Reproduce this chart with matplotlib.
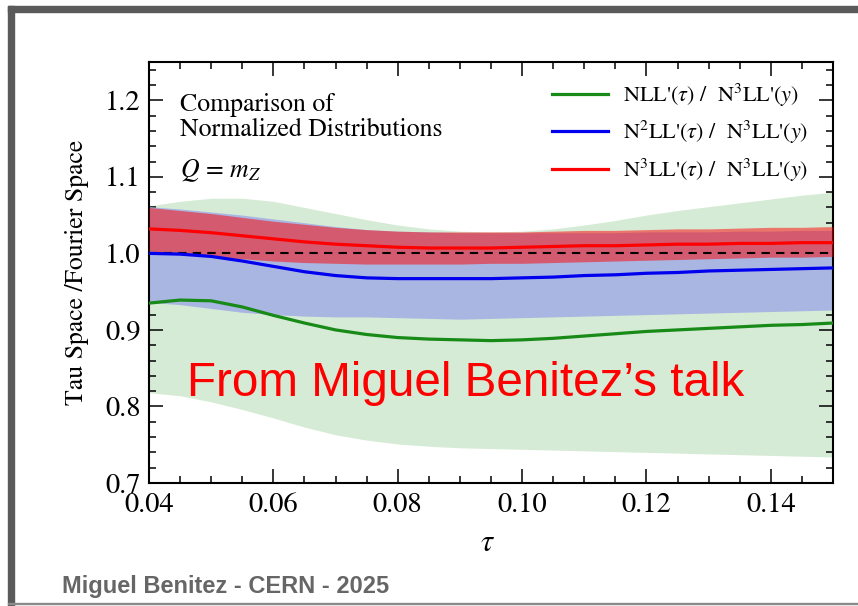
import numpy as np
import matplotlib
matplotlib.use("Agg")
import matplotlib.pyplot as plt
from matplotlib.patches import Rectangle

plt.rcParams["font.family"] = ["STIXGeneral", "DejaVu Serif"]
plt.rcParams["mathtext.fontset"] = "stix"

# ratio curves and scale bands, read every 0.005 in tau
tau = [0.040, 0.045, 0.050, 0.055, 0.060, 0.065, 0.070, 0.075, 0.080, 0.085, 0.090, 0.095,
       0.100, 0.105, 0.110, 0.115, 0.120, 0.125, 0.130, 0.135, 0.140, 0.145, 0.150]

nll = [0.935, 0.939, 0.938, 0.930, 0.919, 0.909, 0.900, 0.894, 0.890, 0.888, 0.887, 0.886,
       0.887, 0.889, 0.892, 0.895, 0.898, 0.900, 0.902, 0.904, 0.906, 0.907, 0.909]
nll_hi = [1.062, 1.068, 1.072, 1.072, 1.068, 1.060, 1.052, 1.044, 1.037, 1.032, 1.029, 1.028,
          1.029, 1.032, 1.037, 1.043, 1.050, 1.056, 1.061, 1.066, 1.071, 1.076, 1.080]
nll_lo = [0.818, 0.814, 0.806, 0.796, 0.785, 0.773, 0.763, 0.756, 0.751, 0.748, 0.746, 0.745,
          0.744, 0.743, 0.742, 0.741, 0.740, 0.739, 0.738, 0.737, 0.736, 0.735, 0.734]

n2ll = [1.000, 0.999, 0.996, 0.990, 0.983, 0.976, 0.971, 0.968, 0.967, 0.967, 0.967, 0.967,
        0.968, 0.969, 0.971, 0.972, 0.974, 0.975, 0.977, 0.978, 0.979, 0.980, 0.981]
n2ll_hi = [1.061, 1.058, 1.054, 1.050, 1.045, 1.040, 1.035, 1.031, 1.029, 1.028, 1.027, 1.027,
           1.027, 1.027, 1.027, 1.027, 1.028, 1.028, 1.028, 1.029, 1.029, 1.030, 1.030]
n2ll_lo = [0.936, 0.933, 0.928, 0.923, 0.920, 0.918, 0.917, 0.917, 0.916, 0.915, 0.914, 0.915,
           0.916, 0.917, 0.918, 0.919, 0.920, 0.921, 0.922, 0.923, 0.924, 0.925, 0.926]

n3ll = [1.032, 1.030, 1.027, 1.023, 1.019, 1.015, 1.012, 1.010, 1.008, 1.007, 1.007, 1.007,
        1.008, 1.009, 1.010, 1.010, 1.011, 1.012, 1.012, 1.013, 1.013, 1.014, 1.014]
n3ll_hi = [1.060, 1.056, 1.052, 1.047, 1.042, 1.038, 1.034, 1.031, 1.029, 1.028, 1.028, 1.028,
           1.028, 1.029, 1.030, 1.030, 1.031, 1.032, 1.032, 1.033, 1.034, 1.034, 1.035]
n3ll_lo = [1.003, 1.000, 0.996, 0.993, 0.990, 0.988, 0.987, 0.986, 0.986, 0.986, 0.986, 0.987,
           0.987, 0.988, 0.989, 0.990, 0.991, 0.992, 0.993, 0.994, 0.995, 0.995, 0.996]

labels = [r"NLL'($\tau$) /  N$^3$LL'($y$)",
          r"N$^2$LL'($\tau$) /  N$^3$LL'($y$)",
          r"N$^3$LL'($\tau$) /  N$^3$LL'($y$)"]

fig = plt.figure(figsize=(8.58, 6.06), dpi=100)
W, H = 858, 606

# slide frame
frame = "#5a5a5a"
fig.patches.append(Rectangle((8 / W, 1 - 12 / H), 1, 6 / H, transform=fig.transFigure,
                             color=frame, zorder=0))
fig.patches.append(Rectangle((8 / W, 0), 6 / W, 1 - 6 / H, transform=fig.transFigure,
                             color=frame, zorder=0))
fig.patches.append(Rectangle((8 / W, 2 / H), 1, 1.5 / H, transform=fig.transFigure,
                             color="#8a8a8a", zorder=0))

ax = fig.add_axes([149 / W, 1 - 483 / H, 684 / W, 421 / H])
ax.set_facecolor("none")

ax.fill_between(tau, nll_lo, nll_hi, color="#d6ebd6", lw=0, zorder=1)
ax.fill_between(tau, n2ll_lo, n2ll_hi, color="#a9b6e1", lw=0, zorder=2)
ax.fill_between(tau, n3ll_lo, n3ll_hi, color="#ff0000", alpha=0.5, lw=0, zorder=3)

ax.axhline(1.0, color="black", lw=1.5, ls=(0, (4, 3)), zorder=4)

ax.plot(tau, nll, color="#178a17", lw=2.3, label=labels[0], zorder=5)
ax.plot(tau, n2ll, color="#0000ee", lw=2.3, label=labels[1], zorder=5)
ax.plot(tau, n3ll, color="#ff0000", lw=2.3, label=labels[2], zorder=5)

ax.set_xlim(0.04, 0.15)
ax.set_ylim(0.7, 1.25)
ax.set_xticks([0.04, 0.06, 0.08, 0.10, 0.12, 0.14])
ax.set_xticklabels(["0.04", "0.06", "0.08", "0.10", "0.12", "0.14"])
ax.set_xticks(np.arange(0.04, 0.1501, 0.005), minor=True)
ax.set_yticks([0.7, 0.8, 0.9, 1.0, 1.1, 1.2])
ax.set_yticklabels(["0.7", "0.8", "0.9", "1.0", "1.1", "1.2"])
ax.set_yticks(np.arange(0.70, 1.2501, 0.02), minor=True)
ax.tick_params(which="both", direction="in", top=True, right=True, width=1.1,
               labelsize=20.5, color="black")
ax.tick_params(which="major", length=10)
ax.tick_params(which="minor", length=5)
ax.tick_params(axis="y", pad=6)
ax.tick_params(axis="x", pad=7)
for s in ax.spines.values():
    s.set_linewidth(1.5)

ax.set_ylabel("Tau Space /Fourier Space", fontsize=18.5)
ax.yaxis.set_label_coords(-0.088, 0.5)
ax.set_xlabel(r"$\tau$", fontsize=22)
ax.xaxis.set_label_coords(0.4956, -0.112)

ax.text(0.0453, 0.898, "Comparison of", transform=ax.transAxes, fontsize=18.5, va="center")
ax.text(0.0453, 0.838, "Normalized Distributions", transform=ax.transAxes, fontsize=18.5,
        va="center")
ax.text(0.0453, 0.743, r"$Q\,=\,m_Z$", transform=ax.transAxes, fontsize=18.5, va="center")

ax.legend(loc="upper left", bbox_to_anchor=(552 / W, 1 - 82 / H),
          bbox_transform=fig.transFigure, frameon=False, fontsize=16,
          handlelength=2.5, handletextpad=0.7, labelspacing=0.45,
          borderpad=0, borderaxespad=0)

fig.text(187 / W, 1 - 383 / H, "From Miguel Benitez\u2019s talk", color="#ff0000",
         fontsize=34.3, family=["Liberation Sans", "DejaVu Sans"], va="center")
fig.text(62 / W, 1 - 586 / H, "Miguel Benitez - CERN - 2025", color="#666666",
         fontsize=17, fontweight="bold", family=["Liberation Sans", "DejaVu Sans"],
         va="center")

fig.savefig("out.png", dpi=100, facecolor="white")
